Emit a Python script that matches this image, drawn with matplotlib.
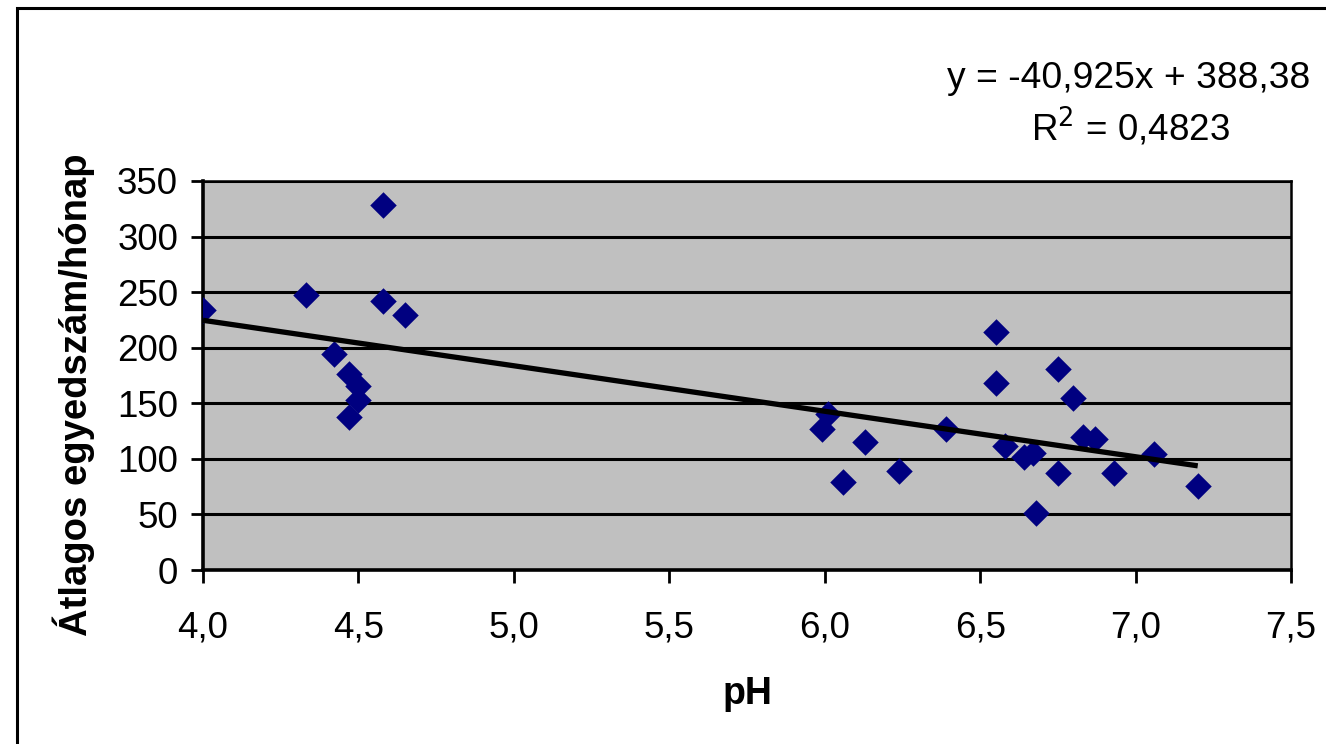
import matplotlib
matplotlib.use("Agg")
import matplotlib.pyplot as plt
from matplotlib.patches import Rectangle
from matplotlib.ticker import FuncFormatter, MultipleLocator
import numpy as np

plt.rcParams['font.family'] = ['Liberation Sans', 'DejaVu Sans']

# Soil pH and average monthly individual count
ph = [4.00, 4.33, 4.58, 4.58, 4.65, 4.42, 4.47, 4.50, 4.50, 4.47,
      6.55, 6.55, 6.75, 6.80, 6.83, 6.01, 5.99, 6.13, 6.06, 6.24,
      6.39, 6.58, 6.64, 6.67, 6.75, 6.68, 6.87, 6.93, 7.06, 7.20]
count = [234, 247, 328, 242, 229, 194, 176, 166, 153, 138,
         214, 168, 181, 155, 120, 140, 127, 115, 79, 89,
         127, 112, 102, 105, 87, 51, 118, 87, 104, 76]

# Linear trend coefficients
slope = -40.925
intercept = 388.38
r_squared = 0.4823

fig = plt.figure(figsize=(13.26, 7.44), dpi=100)
W, H = 1326, 744
left, right, top, bottom = 203, 1291, 181, 570
ax = fig.add_axes([left / W, 1 - bottom / H, (right - left) / W, (bottom - top) / H])
ax.set_facecolor('#C0C0C0')

ax.set_xlim(4.0, 7.5)
ax.set_ylim(0, 350)
ax.xaxis.set_major_locator(MultipleLocator(0.5))
ax.yaxis.set_major_locator(MultipleLocator(50))
ax.xaxis.set_major_formatter(FuncFormatter(lambda v, p: f"{v:.1f}".replace('.', ',')))
ax.yaxis.set_major_formatter(FuncFormatter(lambda v, p: f"{v:.0f}"))

ax.grid(axis='y', color='black', linewidth=2.2, zorder=1)
ax.set_axisbelow(True)

for s in ['top', 'right']:
    ax.spines[s].set_linewidth(1.8)
for s in ['left', 'bottom']:
    ax.spines[s].set_linewidth(2.6)
ax.tick_params(axis='both', direction='out', length=9, width=2, labelsize=26.5,
               colors='black')
ax.tick_params(axis='y', pad=9)
ax.tick_params(axis='x', pad=20)

ax.scatter(ph, count, marker='D', s=13.5 ** 2, color='#000080', zorder=3, linewidths=0)

xs = np.array([min(ph), max(ph)])
ax.plot(xs, slope * xs + intercept, color='black', linewidth=3.8, zorder=4,
        solid_capstyle='butt')

ax.set_xlabel('pH', fontsize=27, fontweight='bold', labelpad=22)
ax.set_ylabel('Átlagos egyedszám/hónap', fontsize=27.5, fontweight='bold', labelpad=16)
ax.yaxis.label.set_y(0.45)

eq = f"y = {slope:.3f}x + {intercept:.2f}".replace('.', ',')
r2 = f"R$^2$ = {r_squared:.4f}".replace('.', ',')
fig.text(1129 / W, 1 - 78 / H, eq, ha='center', va='center', fontsize=26.8)
fig.text(1130 / W, 1 - 128 / H, r2, ha='center', va='center', fontsize=26.5)

# Chart frame
fig.patches.append(Rectangle((17 / W, -0.1), 1.2, 1 - 8 / H + 0.1,
                             transform=fig.transFigure, fill=False,
                             edgecolor='black', linewidth=2.2))

fig.savefig('out.png', dpi=100)
